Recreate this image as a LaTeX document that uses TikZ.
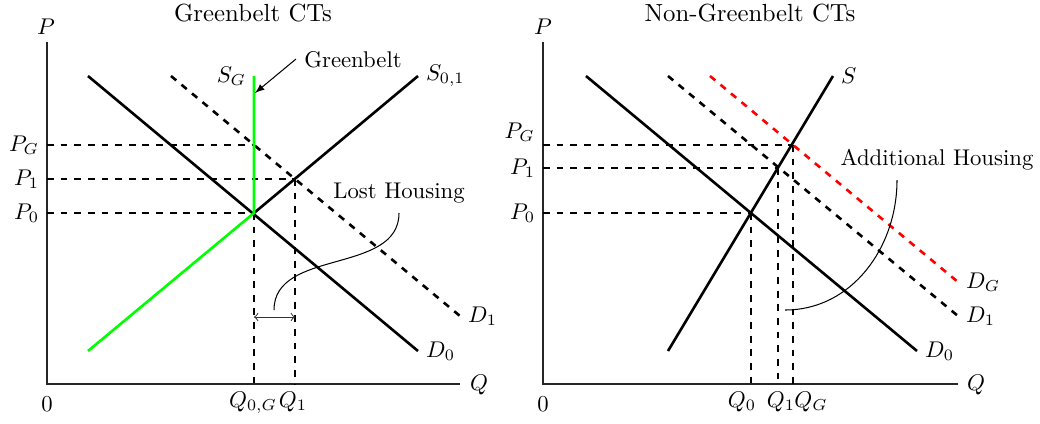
\documentclass[tikz,border=0pt]{standalone}
\usetikzlibrary{arrows}
\begin{document}
\begin{tikzpicture}[x=0.44pt,y=-0.44pt,
  axis/.style={line width=0.5pt,black!85},
  curve/.style={line width=1.15pt},
  dcurve/.style={line width=1.15pt,dashed},
  guide/.style={line width=0.6pt,dashed},
  lab/.style={inner sep=0pt}]
\useasboundingbox (0,0) rectangle (1040,423);
% ---------- Left panel ----------
\node[lab,scale=1.09] (t1) at (253,13) {Greenbelt CTs};
\coordinate (O1) at (47,384);
\coordinate (Y1) at (47,42);
\coordinate (X1) at (460,384);
\draw[axis] (Y1) -- (O1) -- (X1);
\node[lab] (p1) at (46,27) {$P$};
\node[lab] (q1) at (479,385) {$Q$};
\node[lab] (z1) at (47,404) {$0$};
% equilibria
\coordinate (E0) at (254,213);
\coordinate (EG) at (254,145);
\coordinate (E1) at (295,179);
% guides
\draw[guide] (47,145) -- (EG);
\draw[guide] (47,179) -- (E1);
\draw[guide] (47,213) -- (E0);
\draw[guide] (E0) -- (254,384);
\draw[guide] (E1) -- (295,384);
% curves
\coordinate (D0a) at (88,76);  \coordinate (D0b) at (418,351);
\coordinate (D1a) at (171,76); \coordinate (D1b) at (460,316);
\coordinate (Sa) at (254,213); \coordinate (Sb) at (418,76);
\coordinate (GLa) at (88,351);
\coordinate (SGt) at (254,76);
\draw[curve] (D0a) -- (D0b);
\draw[dcurve] (D1a) -- (D1b);
\draw[curve] (Sa) -- (Sb);
\draw[curve,green] (GLa) -- (E0) -- (SGt);
% labels
\node[left] (lPG) at (47,145) {$P_G$};
\node[left] (lP1) at (47,179) {$P_1$};
\node[left] (lP0) at (47,213) {$P_0$};
\node[below] (lQ0G) at (253,384) {$Q_{0,G}$};
\node[below] (lQ1) at (293,384) {$Q_1$};
\node[left] (lSG) at (SGt) {$S_G$};
\node[right] (lS01) at (Sb) {$S_{0,1}$};
\node[right] (lD1) at (D1b) {$D_1$};
\node[right] (lD0) at (D0b) {$D_0$};
% greenbelt arrow
\node[lab] (gb) at (353,60) {Greenbelt};
\coordinate (gbs) at (296,59);
\coordinate (gbe) at (255,93);
\draw[-latex,line width=0.45pt] (gbs) -- (gbe);
% lost housing
\coordinate (la) at (254,317);
\coordinate (lb) at (295,317);
\draw[<->,line width=0.45pt,black!80] (la) -- (lb);
\node[lab] (lh) at (399,193) {Lost Housing};
\coordinate (lhs) at (274,310);
\coordinate (lhe) at (399,213);
\draw[line width=0.45pt] (lhs) to[out=90,in=-90] (lhe);
% ---------- Right panel ----------
\node[lab,scale=1.09] (t2) at (750,13) {Non-Greenbelt CTs};
\coordinate (O2) at (543,384);
\coordinate (Y2) at (543,42);
\coordinate (X2) at (958,384);
\draw[axis] (Y2) -- (O2) -- (X2);
\node[lab] (p2) at (543,27) {$P$};
\node[lab] (q2) at (976,385) {$Q$};
\node[lab] (z2) at (543,404) {$0$};
\coordinate (F0) at (751,213);
\coordinate (F1) at (778,168);
\coordinate (FG) at (793,145);
\draw[guide] (543,145) -- (FG);
\draw[guide] (543,168) -- (F1);
\draw[guide] (543,213) -- (F0);
\draw[guide] (F0) -- (751,384);
\draw[guide] (F1) -- (778,384);
\draw[guide] (FG) -- (793,384);
\coordinate (R0a) at (586,76);  \coordinate (R0b) at (917,351);
\coordinate (R1a) at (668,76);  \coordinate (R1b) at (958,316);
\coordinate (RGa) at (710,76);  \coordinate (RGb) at (958,282);
\coordinate (RSa) at (668,351); \coordinate (RSb) at (833,76);
\draw[curve] (R0a) -- (R0b);
\draw[dcurve] (R1a) -- (R1b);
\draw[dcurve,red] (RGa) -- (RGb);
\draw[curve] (RSa) -- (RSb);
\node[lab,anchor=east] (rPG) at (535,132) {$P_G$};
\node[left] (rP1) at (543,168) {$P_1$};
\node[left] (rP0) at (543,213) {$P_0$};
\node[below] (rQ0) at (742,384) {$Q_0$};
\node[below] (rQ1) at (781,384) {$Q_1$};
\node[below] (rQG) at (811,384) {$Q_G$};
\node[right] (rS) at (RSb) {$S$};
\node[right] (rDG) at (RGb) {$D_G$};
\node[right] (rD1) at (R1b) {$D_1$};
\node[right] (rD0) at (R0b) {$D_0$};
\node[lab] (ah) at (937,160) {Additional Housing};
\coordinate (ahs) at (785,310);
\coordinate (ahe) at (897,180);
\draw[line width=0.45pt] (ahs) to[out=0,in=-90] (ahe);
\end{tikzpicture}
\end{document}
